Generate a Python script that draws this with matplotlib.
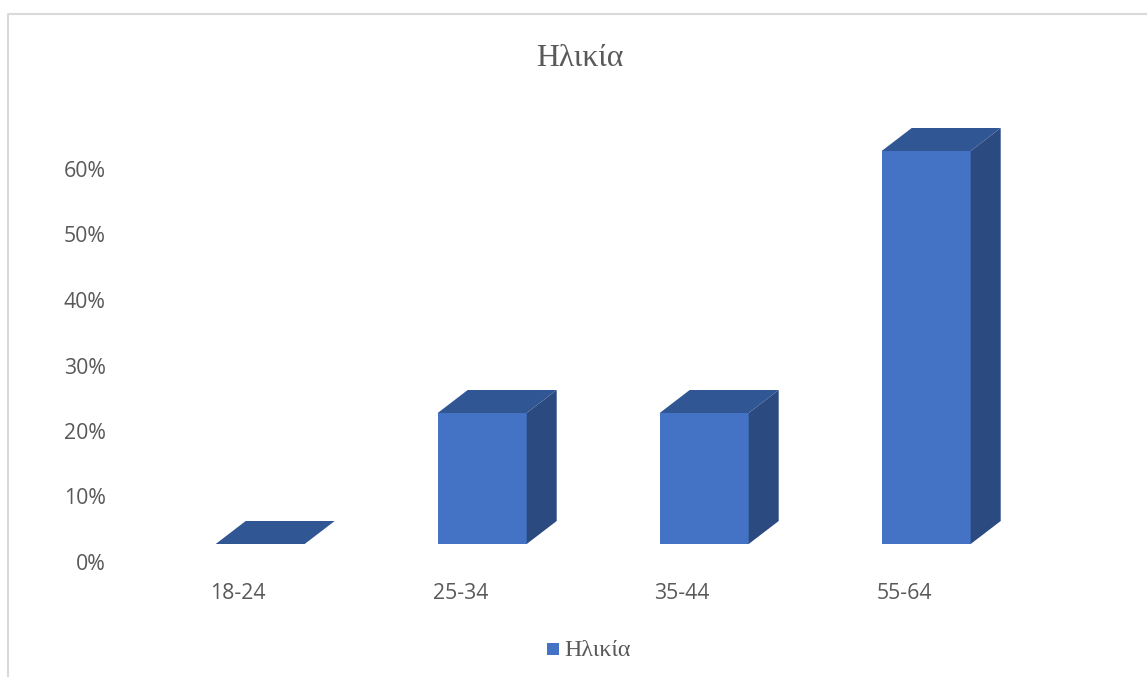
import matplotlib
matplotlib.use('Agg')
import matplotlib.pyplot as plt
from matplotlib.patches import Polygon, Rectangle
from matplotlib.transforms import ScaledTranslation

categories = ['18-24', '25-34', '35-44', '55-64']
values = [0, 20, 20, 60]
yticks = [0, 10, 20, 30, 40, 50, 60]

W, H = 1147, 677
front_col = '#4472C4'
side_col = '#2A4A80'
top_col = '#315694'
text_col = '#595959'

plt.rcParams['font.family'] = ['Open Sans', 'DejaVu Sans']
fig = plt.figure(figsize=(W / 100, H / 100), dpi=100)

# frame of the pasted chart
fig.add_artist(plt.Line2D([8 / W, 8 / W, 1], [0, 1 - 14 / H, 1 - 14 / H], color='#d9d9d9', lw=1.5))

# axes placed so that 0 sits at y=544 and categories are 222px apart
ax = fig.add_axes([149.2 / W, 1 - 544 / H, 888 / W, 458.5 / H])
ax.set_xlim(-0.5, 3.5)
ax.set_ylim(0, 70)
ax.patch.set_visible(False)
for s in ax.spines.values():
    s.set_visible(False)

bw = 89 / 222
dx = 30 / 222
dy = 23 / (458.5 / 70)

for i, v in enumerate(values):
    x0 = i - bw / 2
    x1 = i + bw / 2
    ax.add_patch(Rectangle((x0, 0), bw, v, fc=front_col, ec='none', clip_on=False))
    ax.add_patch(Polygon([(x1, 0), (x1 + dx, dy), (x1 + dx, v + dy), (x1, v)], fc=side_col, ec='none', clip_on=False))
    ax.add_patch(Polygon([(x0, v), (x1, v), (x1 + dx, v + dy), (x0 + dx, v + dy)], fc=top_col, ec='none', clip_on=False))

ax.set_yticks(yticks)
ax.set_yticklabels([f'{t}%' for t in yticks], fontsize=15.3, color=text_col)
ax.set_xticks(range(len(categories)))
ax.set_xticklabels(categories, fontsize=15.3, color=text_col)
ax.tick_params(length=0, pad=0)
ax.tick_params(axis='y', pad=31.3)

# labels sit lower and to the left of the bars, as in the 3D chart
shift_y = ScaledTranslation(0, -18 / 100, fig.dpi_scale_trans)
for lab in ax.get_yticklabels():
    lab.set_transform(lab.get_transform() + shift_y)
shift_x = ScaledTranslation(-22 / 100, -39 / 100, fig.dpi_scale_trans)
for lab in ax.get_xticklabels():
    lab.set_transform(lab.get_transform() + shift_x)

fig.text(579.5 / W, 1 - 58 / H, 'Ηλικία', family='Liberation Serif', fontsize=22.8, color=text_col,
         ha='center', va='center')

fig.patches.append(Rectangle((547 / W, 1 - 655 / H), 12 / W, 12 / H, transform=fig.transFigure, fc=front_col, ec='none'))
fig.text(564 / W, 1 - 650 / H, 'Ηλικία', family='Liberation Serif', fontsize=17.3, color=text_col,
         ha='left', va='center')

fig.savefig('out.png', dpi=100)
